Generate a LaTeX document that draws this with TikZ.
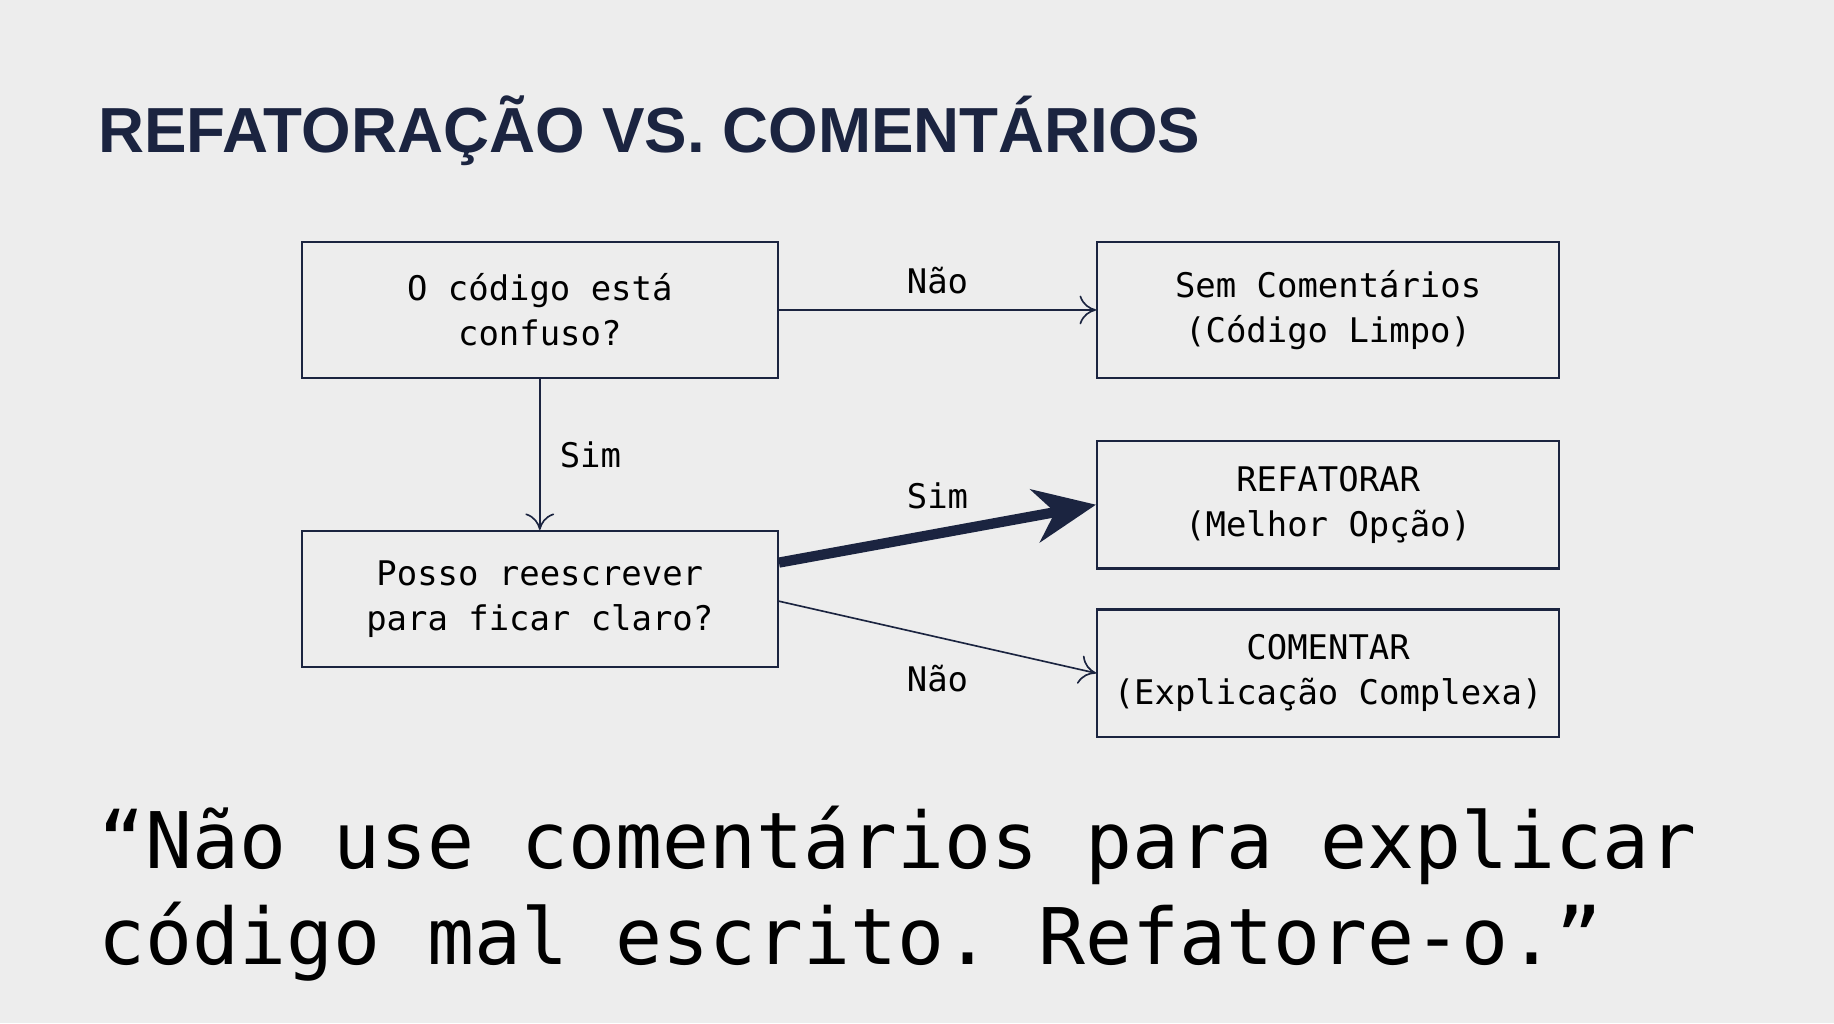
\documentclass[tikz,border=0pt]{standalone}
\usepackage{fontspec}
\setmainfont{Liberation Sans}
\setmonofont{DejaVu Sans Mono}
\usetikzlibrary{arrows.meta, positioning}
\definecolor{navy}{HTML}{1B2440}
\definecolor{bg}{HTML}{EDEDED}
\tikzset{
  decision/.style={draw=navy, line width=1.1pt, minimum width=407*0.02cm, minimum height=116*0.02cm,
    align=center, font=\ttfamily\fontsize{16.5}{22}\selectfont, text=black, inner sep=2pt},
  outcome/.style={decision, minimum width=395*0.02cm, minimum height=109*0.02cm},
  link/.style={draw=navy, line width=0.8pt, -{To[length=8pt,width=14pt]}},
  lbl/.style={font=\ttfamily\fontsize{16.5}{20}\selectfont, text=black}
}
\begin{document}
\begin{tikzpicture}[x=0.02cm, y=-0.02cm]
  \fill[bg] (0,0) rectangle (1568,875);
  \node[anchor=base west, font=\bfseries\fontsize{31}{36}\selectfont, text=navy] (title) at (78,130) {REFATORAÇÃO VS. COMENTÁRIOS};

  \node[decision] (q1) at (461.5,265) {O código está\\confuso?};
  \node[decision] (q2) at (461.5,512) {Posso reescrever\\para ficar claro?};
  \node[outcome, minimum height=116*0.02cm] (clean) at (1135.5,265) {Sem Comentários\\(Código Limpo)};
  \node[outcome] (refac) at (1135.5,431.5) {REFATORAR\\(Melhor Opção)};
  \node[outcome] (comment) at (1135.5,575.5) {COMENTAR\\(Explicação Complexa)};

  \draw[link] (q1) -- node[lbl, above=4pt] {Não} (clean);
  \draw[link] (q1) -- node[lbl, right=6pt] {Sim} (q2);
  \draw[navy, line width=5pt, -{Stealth[length=30pt,width=26pt]}] (q2.east |- 0,481) -- node[lbl, above=6pt] {Sim} (refac.west);
  \draw[link] (q2.east |- 0,514) -- node[lbl, below=10pt] {Não} (comment.west);

  \node[anchor=base west, align=left, font=\ttfamily\fontsize{38}{47}\selectfont, text=black] (quote) at (78,825)
    {“Não use comentários para explicar\\código mal escrito. Refatore-o.”};
\end{tikzpicture}
\end{document}
